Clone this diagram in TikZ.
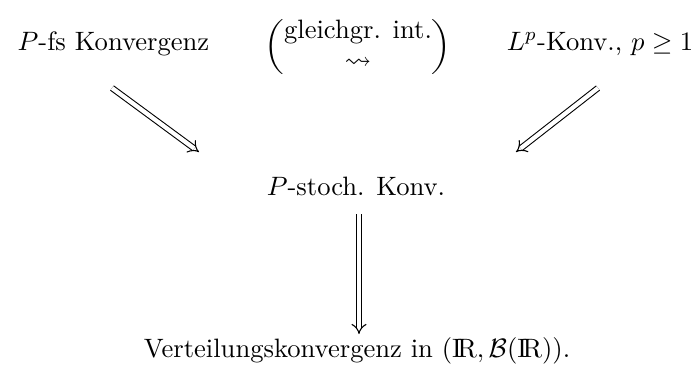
\documentclass[tikz,border=0pt]{standalone}
\usepackage{amsmath,amssymb,graphicx}
\usetikzlibrary{arrows.meta}
\newcommand{\myparen}[1]{\vcenter{\hbox{\scalebox{1}[0.86]{$\bigg#1$}}}}
\begin{document}
\begin{tikzpicture}[x=0.376pt,y=-0.376pt,
  lbl/.style={anchor=base,inner sep=0pt,outer sep=0pt},
  impl/.style={draw,line width=0.4pt,double,double distance=1.6pt,-{Implies}}]
\useasboundingbox (0,0) rectangle (699,367);
\node[lbl] (pfs) at (113.5,50) {$P$-fs Konvergenz};
\node[inner sep=0pt] (ui) at (358,47.5) {\renewcommand{\arraystretch}{0.92}$\myparen(\begin{matrix}\text{gleichgr. int.}\\ \leadsto\end{matrix}\myparen)$};
\node[lbl] (lp) at (600,50) {$L^p$-Konv., $p\ge 1$};
\node[lbl] (ps) at (356,195) {$P$-stoch. Konv.};
\node[lbl] (vk) at (357,357) {Verteilungskonvergenz in $(\mathrm{I\!R},\mathcal{B}(\mathrm{I\!R}))$.};
\coordinate (a1s) at (112,88);
\coordinate (a1e) at (199,152);
\coordinate (a2s) at (598,88);
\coordinate (a2e) at (516,152);
\coordinate (a3s) at (359,214);
\coordinate (a3e) at (359,334);
\draw[impl] (a1s) -- (a1e);
\draw[impl] (a2s) -- (a2e);
\draw[impl] (a3s) -- (a3e);
\end{tikzpicture}
\end{document}
